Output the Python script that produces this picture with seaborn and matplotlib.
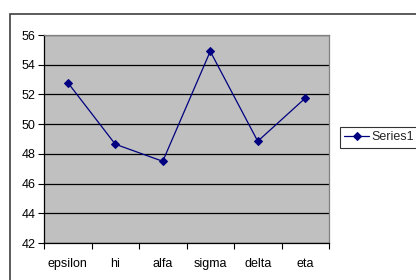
import matplotlib
matplotlib.use("Agg")
import matplotlib.pyplot as plt
import seaborn as sns
import pandas as pd
from matplotlib.patches import Rectangle

categories = ["epsilon", "hi", "alfa", "sigma", "delta", "eta"]
values = [52.8, 48.65, 47.5, 54.9, 48.85, 51.75]
yticks = [42, 44, 46, 48, 50, 52, 54, 56]
series_name = "Series1"

sns.set_theme(style="white")
plt.rcParams['font.family'] = ['Liberation Sans', 'DejaVu Sans']

df = pd.DataFrame({"cat": categories, "val": values, "series": series_name})
df["x"] = range(len(categories))

fig = plt.figure(figsize=(4.16, 2.8), dpi=100)
fig.patch.set_facecolor("white")
ax = fig.add_axes([44/416, 1-243/280, 285/416, 208/280])
ax.set_facecolor("#C0C0C0")

sns.lineplot(data=df, x="x", y="val", hue="series", palette=["#000080"],
             marker="D", markersize=4, markeredgecolor="#000080",
             linewidth=0.9, ax=ax, legend=True)

ax.set_xlim(-0.5, len(categories) - 0.5)
ax.set_ylim(42, 56)
ax.set_yticks(yticks)
ax.set_yticklabels([str(t) for t in yticks], fontsize=9, color="black")
ax.set_xticks(range(len(categories)))
ax.set_xticklabels(categories, fontsize=9, color="black")
ax.set_xticks([i - 0.5 for i in range(len(categories) + 1)], minor=True)
ax.tick_params(axis="x", which="major", length=0, pad=11)
ax.tick_params(axis="x", which="minor", length=4, width=0.8, color="black", direction="out", bottom=True)
ax.tick_params(axis="y", which="major", length=4, width=0.8, color="black", direction="out", left=True, pad=2)
ax.set_xlabel("")
ax.set_ylabel("")
ax.grid(axis="y", color="black", linewidth=0.9)
ax.set_axisbelow(True)
for s in ["top", "right"]:
    ax.spines[s].set_color("#808080")
    ax.spines[s].set_linewidth(0.9)
for s in ["left", "bottom"]:
    ax.spines[s].set_color("black")
    ax.spines[s].set_linewidth(0.9)

leg = ax.legend(loc="upper left", bbox_to_anchor=(340/416, 1-127/280),
                bbox_transform=fig.transFigure, frameon=True, fancybox=False,
                fontsize=9, handlelength=2.0, borderpad=0.35, handletextpad=0.2,
                borderaxespad=0)
leg.get_frame().set_edgecolor("black")
leg.get_frame().set_linewidth(0.8)
leg.get_frame().set_facecolor("white")

frame = Rectangle((9.5/416, -0.1), 1.2, 1.1 - 13.5/280, transform=fig.transFigure,
                  fill=False, edgecolor="#404040", linewidth=1.2, clip_on=False)
fig.patches.append(frame)

fig.savefig("out.png", dpi=100)
